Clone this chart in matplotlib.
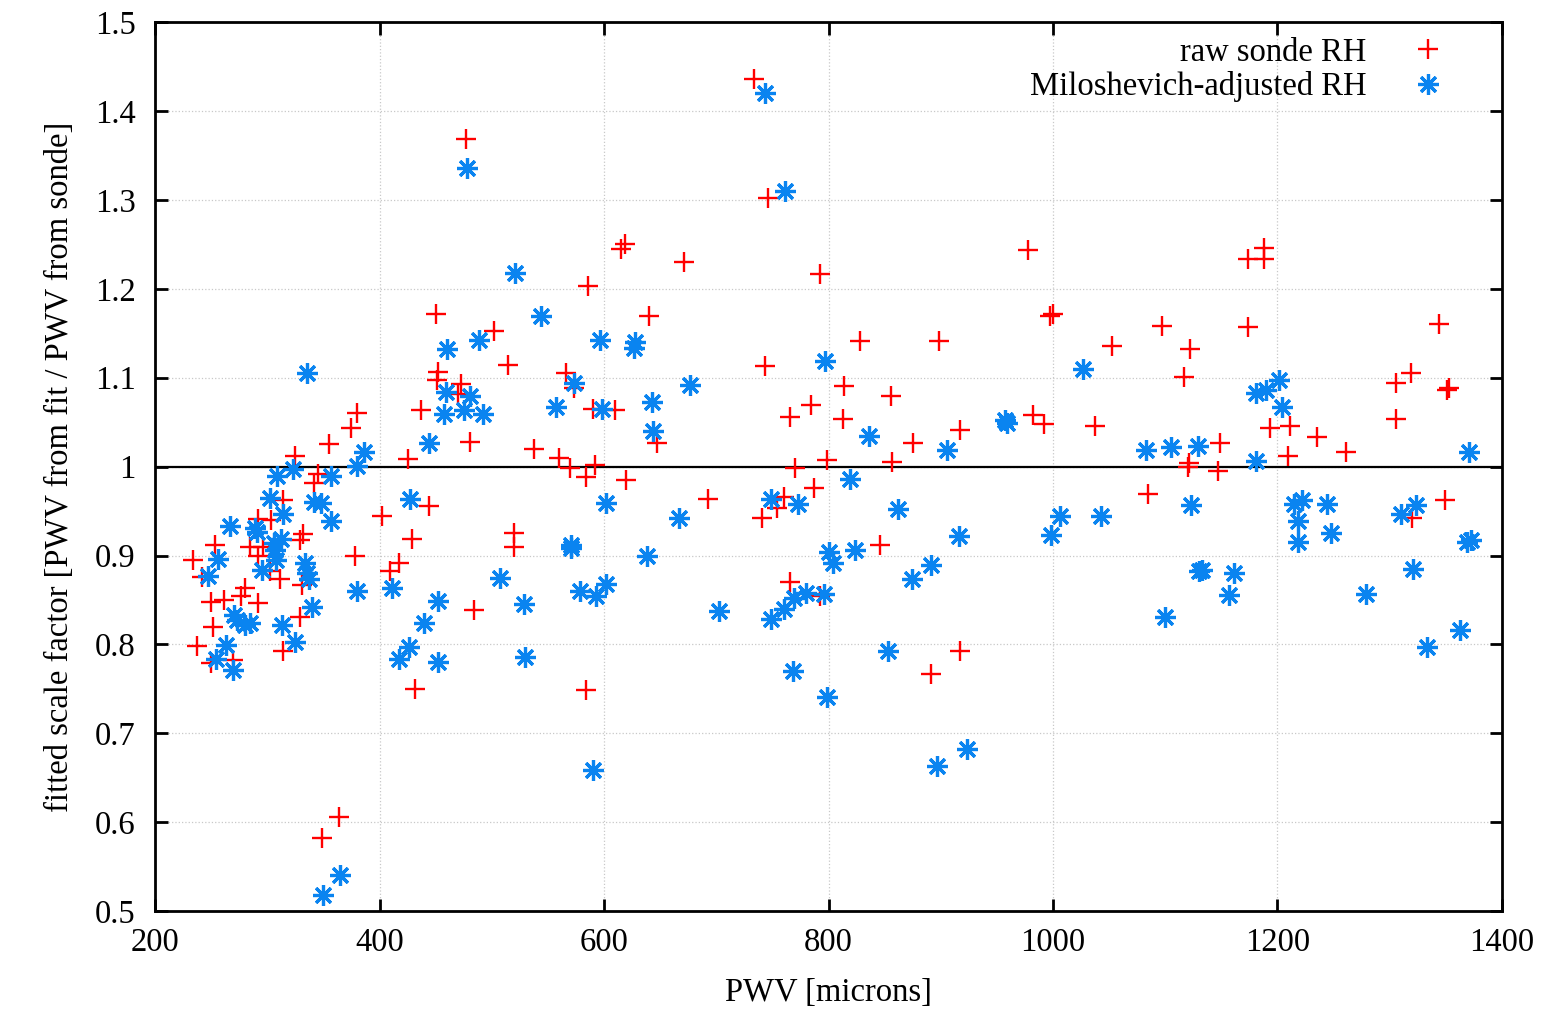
import matplotlib
matplotlib.use("Agg")
import matplotlib.pyplot as plt
from matplotlib.ticker import FuncFormatter

# datos: PWV [microns] y factor de escala ajustado
raw_pwv = [380, 375, 355, 325, 345, 342, 314, 292, 303, 402, 332, 329, 253, 285, 296, 292,
           234, 378, 417, 409, 302, 242, 311, 331, 280, 277, 261, 250, 292, 329, 252, 237,
           314, 250, 269, 364, 349,
           586, 450, 640, 502, 514, 452, 451, 473, 470, 566, 573, 437, 590, 610, 481, 647,
           425, 538, 560, 570, 592, 584, 620, 444, 429, 520, 520, 484, 432, 584, 477,
           734, 746, 671, 619, 615, 792, 743, 828, 898, 814, 856, 784, 766, 813, 875, 917,
           799, 857, 770, 787, 693, 760, 754, 741, 846, 766, 792, 891, 917,
           1000, 997, 1097, 1053, 1122, 1117, 982, 992, 1037, 1149, 1121, 1120, 1147, 1085, 978,
           1174, 1344, 1319, 1306, 1353, 1351, 1306, 1193, 1211, 1235, 1261, 1209, 1349, 1320,
           1174, 1188, 1188]
raw_fac = [1.060, 1.043, 1.025, 1.012, 0.992, 0.982, 0.962, 0.941, 0.940, 0.945, 0.924, 0.917,
           0.912, 0.910, 0.910, 0.900, 0.895, 0.899, 0.892, 0.882, 0.882, 0.876, 0.873, 0.867,
           0.863, 0.854, 0.850, 0.848, 0.846, 0.831, 0.820, 0.798, 0.792, 0.779, 0.782, 0.606,
           0.582,
           1.203, 1.172, 1.170, 1.153, 1.114, 1.107, 1.098, 1.093, 1.082, 1.105, 1.088, 1.064,
           1.065, 1.064, 1.028, 1.027, 1.009, 1.020, 1.010, 0.998, 1.002, 0.988, 0.985, 0.956,
           0.919, 0.925, 0.910, 0.839, 0.750, 0.749, 1.369,
           1.436, 1.302, 1.230, 1.251, 1.245, 1.217, 1.113, 1.141, 1.141, 1.091, 1.079, 1.069,
           1.056, 1.054, 1.027, 1.041, 1.007, 1.005, 0.999, 0.976, 0.964, 0.966, 0.953, 0.942,
           0.912, 0.870, 0.854, 0.767, 0.792,
           1.172, 1.169, 1.158, 1.136, 1.132, 1.101, 1.058, 1.048, 1.046, 1.027, 1.004, 1.000,
           0.995, 0.969, 1.244,
           1.157, 1.161, 1.105, 1.094, 1.088, 1.086, 1.054, 1.043, 1.046, 1.033, 1.017, 1.012,
           0.963, 0.942, 1.234, 1.234, 1.246]

milo_pwv = [365, 350,
            544, 460, 489, 596, 628, 627, 573, 459, 481, 475, 457, 492, 557, 598, 643, 644,
            444, 427, 602, 667, 571, 571, 638, 507, 411, 452, 529, 579, 593, 602, 440, 426,
            417, 452, 530,
            386, 380, 357, 323, 309, 302, 314, 342, 348, 357, 267, 289, 291, 312, 306, 307,
            308, 256, 295, 334, 335, 337, 247, 380, 340, 270, 273, 285, 280, 313, 325, 263,
            254, 269, 335,
            761, 743, 478, 521, 590,
            797, 677, 836, 906, 819, 749, 773, 862, 916, 800, 804, 824, 891, 874, 702, 749,
            760, 769, 780, 796, 768, 853, 799,
            1027, 957, 959, 1083, 1105, 1129, 1123, 1006, 1043, 998, 1133, 1130, 1161, 1157,
            1100, 897, 923,
            1201, 1181, 1190, 1204, 1181, 1371, 1215, 1222, 1244, 1218, 1218, 1248, 1323, 1310,
            1369, 1372, 1321, 1279, 1363, 1333]
milo_fac = [0.540, 0.518,
            1.170, 1.132, 1.143, 1.142, 1.140, 1.134, 1.094, 1.084, 1.080, 1.064, 1.059, 1.059,
            1.067, 1.065, 1.073, 1.040, 1.027, 0.964, 0.959, 0.942, 0.912, 0.909, 0.900, 0.875,
            0.863, 0.849, 0.845, 0.860, 0.854, 0.868, 0.824, 0.797, 0.784, 0.780, 0.786,
            1.017, 1.001, 0.990, 0.997, 0.990, 0.965, 0.947, 0.960, 0.959, 0.939, 0.933, 0.931,
            0.927, 0.919, 0.914, 0.906, 0.895, 0.896, 0.884, 0.891, 0.880, 0.873, 0.877, 0.860,
            0.842, 0.833, 0.827, 0.824, 0.822, 0.822, 0.803, 0.799, 0.784, 0.771, 1.105,
            1.310, 1.420, 1.336, 1.218, 0.659,
            1.119, 1.092, 1.035, 1.019, 0.986, 0.964, 0.958, 0.952, 0.922, 0.904, 0.892, 0.906,
            0.889, 0.873, 0.837, 0.828, 0.840, 0.852, 0.858, 0.857, 0.770, 0.792, 0.741,
            1.110, 1.052, 1.049, 1.019, 1.022, 1.023, 0.957, 0.945, 0.945, 0.923, 0.884, 0.882,
            0.880, 0.855, 0.831, 0.663, 0.682,
            1.097, 1.083, 1.086, 1.067, 1.006, 1.016, 0.958, 0.963, 0.958, 0.939, 0.915, 0.925,
            0.957, 0.947, 0.915, 0.918, 0.885, 0.857, 0.816, 0.797]

plt.rcParams['font.family'] = ['Liberation Serif', 'DejaVu Serif']
plt.rcParams['font.size'] = 23.5

fig = plt.figure(figsize=(15.43, 10.10), dpi=100)
ax = fig.add_axes([0.1005, 0.098, 0.8729, 0.880])

ax.plot(raw_pwv, raw_fac, linestyle='none', marker='+', color='#ff0000',
        markersize=14, markeredgewidth=1.7, label='raw sonde RH')
ax.plot(milo_pwv, milo_fac, linestyle='none', marker=(8, 2, 0), color='#0a84f0',
        markersize=15, markeredgewidth=2.3, label='Miloshevich-adjusted RH')

ax.axhline(1.0, color='black', linewidth=1.6, zorder=1)

ax.set_xlim(200, 1400)
ax.set_ylim(0.5, 1.5)
ax.set_xticks(range(200, 1401, 200))
ax.set_yticks([0.5 + 0.1 * i for i in range(11)])
ax.yaxis.set_major_formatter(FuncFormatter(lambda v, p: '%g' % round(v, 2)))
ax.tick_params(direction='in', length=9, width=2.0, top=True, right=True)
ax.tick_params(axis='x', pad=12)
ax.tick_params(axis='y', pad=14)
ax.grid(True, color='#c8c8c8', linestyle=':', linewidth=0.9)
ax.set_axisbelow(True)
for s in ax.spines.values():
    s.set_linewidth(2.0)

ax.set_xlabel('PWV [microns]', labelpad=14)
ax.set_ylabel('fitted scale factor [PWV from fit / PWV from sonde]', labelpad=14)

ax.legend(loc='upper right', bbox_to_anchor=(0.957, 0.983), frameon=False,
          markerfirst=False, handlelength=1.0, handletextpad=1.37, borderpad=0,
          borderaxespad=0, labelspacing=0.1)

plt.savefig('out.png')
